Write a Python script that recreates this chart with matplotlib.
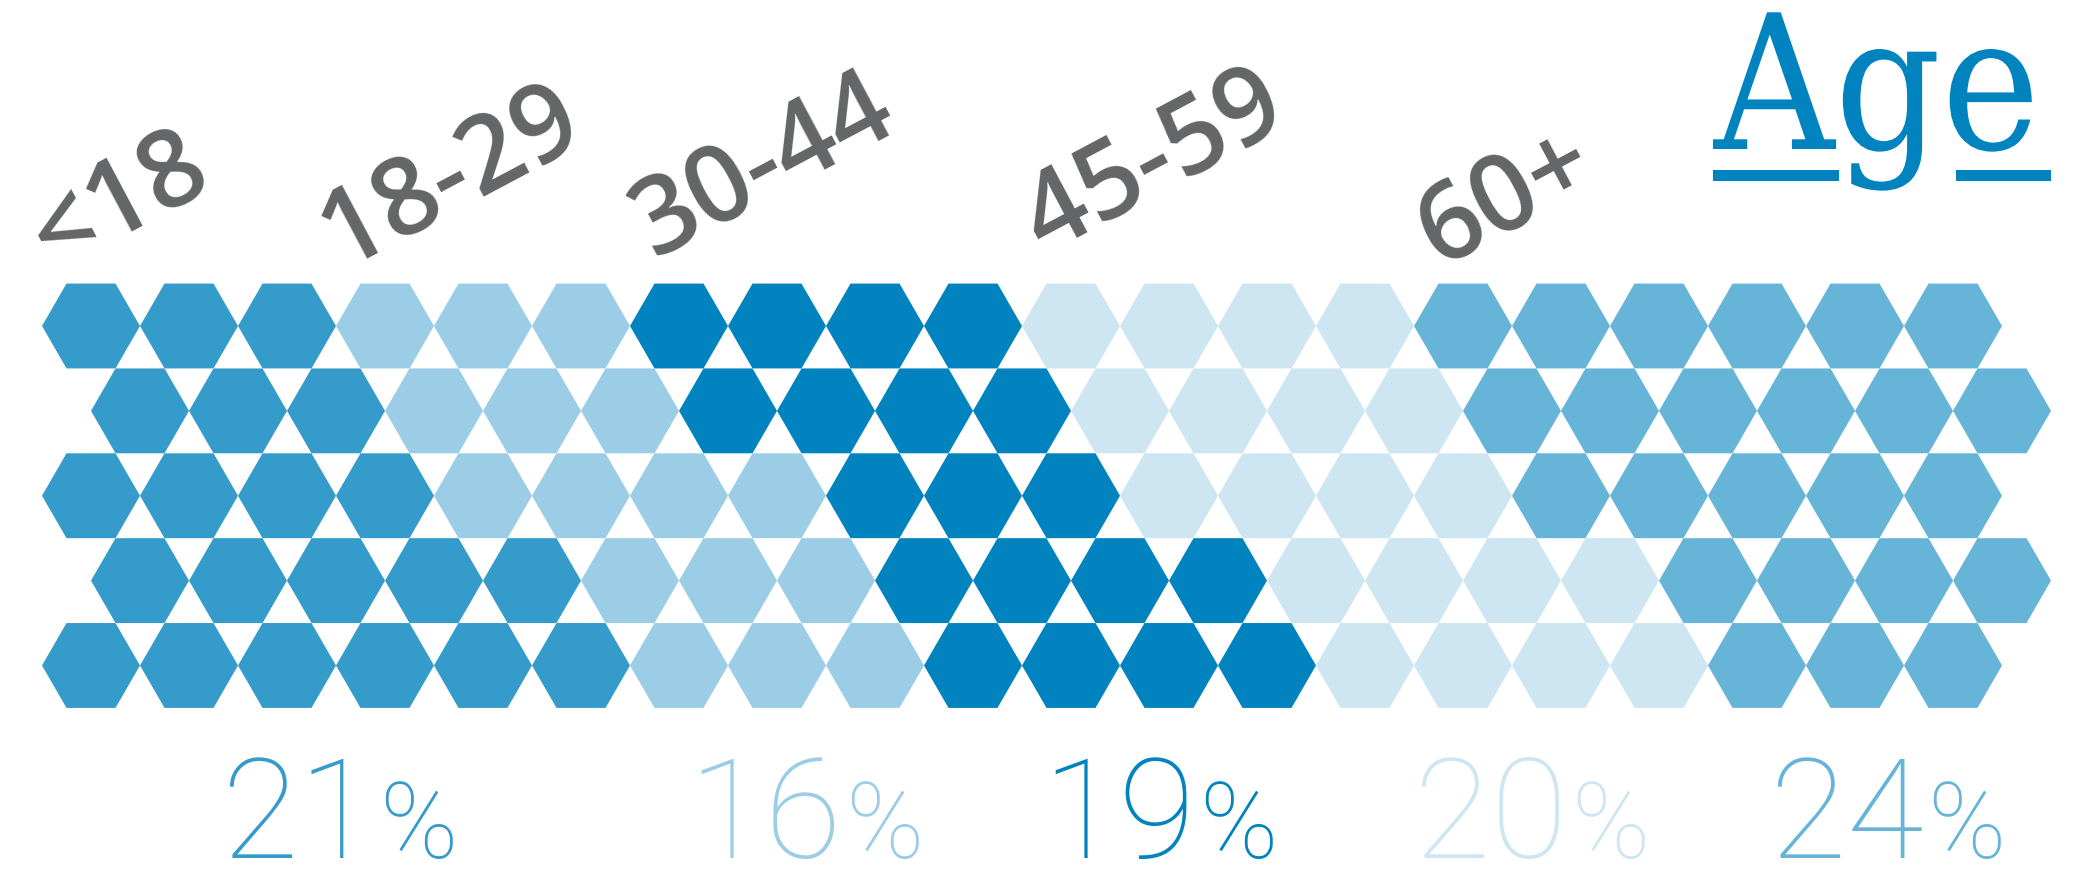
import numpy as np
import matplotlib
matplotlib.use("Agg")
import matplotlib.pyplot as plt
from matplotlib.patches import RegularPolygon, Rectangle
from matplotlib.patheffects import AbstractPathEffect
from matplotlib.transforms import Affine2D

# age groups, share of people (%) and the colour of each group
AGE_GROUPS = ["<18", "18-29", "30-44", "45-59", "60+"]
SHARES = [21, 16, 19, 20, 24]
GROUP_COLORS = ["#359bcb", "#9bcde6", "#0083bf", "#cde6f2", "#67b4d9"]

# hexagons per group in every row, left to right (5 rows x 20 cells = 100)
ROW_COUNTS = [
    [3, 3, 4, 4, 6],
    [3, 3, 4, 4, 6],
    [4, 4, 3, 4, 5],
    [5, 3, 4, 4, 4],
    [6, 3, 4, 4, 3],
]

TITLE = "Age"
TITLE_COLOR = "#0083bf"
LABEL_GRAY = "#646567"

# canvas in pixels
W, H = 2095, 870
SIDE = 49.0            # hexagon edge
X0, Y0 = 91.0, 327.0   # centre of the top-left hexagon

# where the tilted group names and the percentage blocks sit
LABEL_XY = [(114, 192), (445, 166), (758, 156), (1148, 152), (1500, 188)]
LABEL_ANGLE = 28
PCT_CX = [340, 806, 1160, 1532, 1888]
PCT_BASE = 858

for g, share in enumerate(SHARES):
    assert sum(row[g] for row in ROW_COUNTS) == share, AGE_GROUPS[g]


class Condense(AbstractPathEffect):
    """squeeze glyphs horizontally around the text origin"""

    def __init__(self, sx=1.0):
        super().__init__()
        self._sx = sx

    def draw_path(self, renderer, gc, tpath, affine, rgbFace=None):
        renderer.draw_path(gc, tpath, Affine2D().scale(self._sx, 1.0) + affine, rgbFace)


fig = plt.figure(figsize=(W / 100, H / 100), dpi=100)
ax = fig.add_axes([0, 0, 1, 1])
ax.set_xlim(0, W)
ax.set_ylim(H, 0)
ax.axis("off")

# hexagon grid: hexagons in a row touch at the points, odd rows shifted by one edge
row_step = np.sqrt(3) * SIDE
for r, counts in enumerate(ROW_COUNTS):
    groups = np.repeat(np.arange(len(counts)), counts)
    for c, g in enumerate(groups):
        cx = X0 + 2 * SIDE * c + SIDE * (r % 2)
        cy = Y0 + row_step * r
        ax.add_patch(RegularPolygon((cx, cy), 6, radius=SIDE, orientation=np.pi / 6,
                                    facecolor=GROUP_COLORS[g], edgecolor="none"))

# group names, tilted
for name, (lx, ly) in zip(AGE_GROUPS, LABEL_XY):
    ax.text(lx, ly, name, rotation=LABEL_ANGLE, rotation_mode="anchor",
            ha="center", va="center_baseline",
            fontsize=77, family="Open Sans", fontweight="semibold", color=LABEL_GRAY)

# percentages: big number + smaller % sign
renderer = fig.canvas.get_renderer()
for share, color, cx in zip(SHARES, GROUP_COLORS, PCT_CX):
    num = ax.text(0, PCT_BASE, str(share), fontsize=101, family="Roboto", fontweight="light",
                  color=color, ha="left", va="baseline")
    pct = ax.text(0, PCT_BASE, "%", fontsize=76, family="Roboto", fontweight="light",
                  color=color, ha="left", va="baseline")
    wn = num.get_window_extent(renderer).width
    wp = pct.get_window_extent(renderer).width
    gap = 4
    left = cx - (wn + gap + wp) / 2
    num.set_x(left)
    pct.set_x(left + wn + gap)

# title with its broken underline
ax.text(1714, 150, TITLE, fontsize=135, family="DejaVu Serif", color=TITLE_COLOR,
        ha="left", va="baseline", path_effects=[Condense(0.89)])
ax.add_patch(Rectangle((1713, 171), 126, 11, facecolor=TITLE_COLOR, edgecolor="none"))
ax.add_patch(Rectangle((1956, 171), 95, 11, facecolor=TITLE_COLOR, edgecolor="none"))

fig.savefig("out.png", dpi=100)
